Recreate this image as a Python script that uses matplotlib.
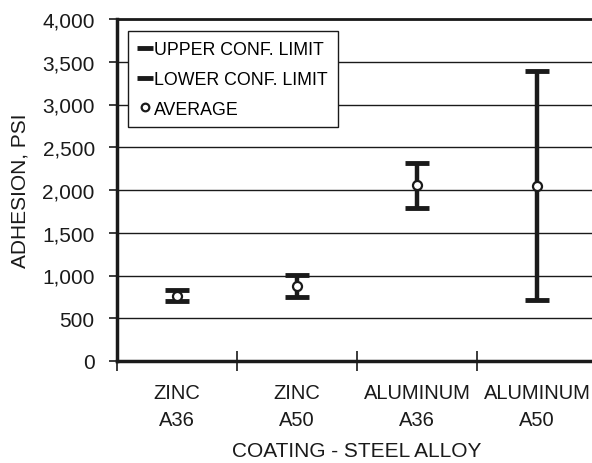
import matplotlib.pyplot as plt
from matplotlib.lines import Line2D

plt.rcParams['font.family'] = ['Liberation Sans', 'DejaVu Sans']

# Data
categories = ["ZINC\nA36", "ZINC\nA50", "ALUMINUM\nA36", "ALUMINUM\nA50"]
upper = [836, 1002, 2310, 3386]
lower = [696, 754, 1795, 716]
average = [764, 881, 2055, 2050]
y_ticks = [0, 500, 1000, 1500, 2000, 2500, 3000, 3500, 4000]

fig = plt.figure(figsize=(5.92, 4.64), dpi=100)
ax = fig.add_axes([117 / 592, 1 - 362 / 464, 480 / 592, 342 / 464])

x = list(range(len(categories)))
ink = '#1a1a1a'

# grid first, behind the marks
for t in y_ticks[1:]:
    ax.axhline(t, color=ink, lw=1.0, zorder=1)

ax.vlines(x, lower, upper, color=ink, lw=3.2, zorder=3)
ax.plot(x, upper, ls='none', marker='_', ms=17, mew=3.5, color=ink, zorder=4)
ax.plot(x, lower, ls='none', marker='_', ms=17, mew=3.5, color=ink, zorder=4)
ax.plot(x, average, ls='none', marker='o', ms=6.5, mew=1.6, mfc='white', mec=ink, zorder=5)

ax.set_xlim(-0.5, 3.5)
ax.set_ylim(0, 4000)

ax.set_yticks(y_ticks)
ax.set_yticklabels([f"{t:,}" for t in y_ticks])
ax.tick_params(axis='y', direction='out', length=6, width=1.2, pad=10,
               labelsize=15, color=ink, labelcolor=ink)

# category boundaries as major ticks, labels on minor ticks
ax.set_xticks([-0.5, 0.5, 1.5, 2.5, 3.5])
ax.set_xticklabels([])
ax.set_xticks(x, minor=True)
ax.set_xticklabels(categories, minor=True, linespacing=1.5)
ax.tick_params(axis='x', which='major', direction='inout', length=14, width=1.2, color=ink)
ax.tick_params(axis='x', which='minor', length=0, pad=16, labelsize=14.5, labelcolor=ink)

for side in ['left', 'bottom']:
    ax.spines[side].set_linewidth(2.5)
    ax.spines[side].set_color(ink)
ax.spines['top'].set_linewidth(2.0)
ax.spines['top'].set_color(ink)
ax.spines['right'].set_visible(False)

ax.set_ylabel("ADHESION, PSI", fontsize=15, color=ink)
ax.yaxis.set_label_coords(-0.183, 0.5)
ax.set_xlabel("COATING - STEEL ALLOY", fontsize=15, color=ink)
ax.xaxis.set_label_coords(0.5, -0.235)

handles = [
    Line2D([], [], ls='none', marker='_', ms=11, mew=3.5, color=ink),
    Line2D([], [], ls='none', marker='_', ms=11, mew=3.5, color=ink),
    Line2D([], [], ls='none', marker='o', ms=5.5, mew=1.6, mfc='white', mec=ink),
]
leg = ax.legend(handles, ["UPPER CONF. LIMIT", "LOWER CONF. LIMIT", "AVERAGE"],
                loc='upper left', bbox_to_anchor=(0.022, 0.964), borderaxespad=0,
                fontsize=12.8, handlelength=0.85, handletextpad=0.1, labelspacing=0.72,
                borderpad=0.55, fancybox=False, framealpha=1, edgecolor=ink)
leg.get_frame().set_linewidth(1.0)
leg.set_zorder(10)

fig.savefig("out.png", dpi=100)
